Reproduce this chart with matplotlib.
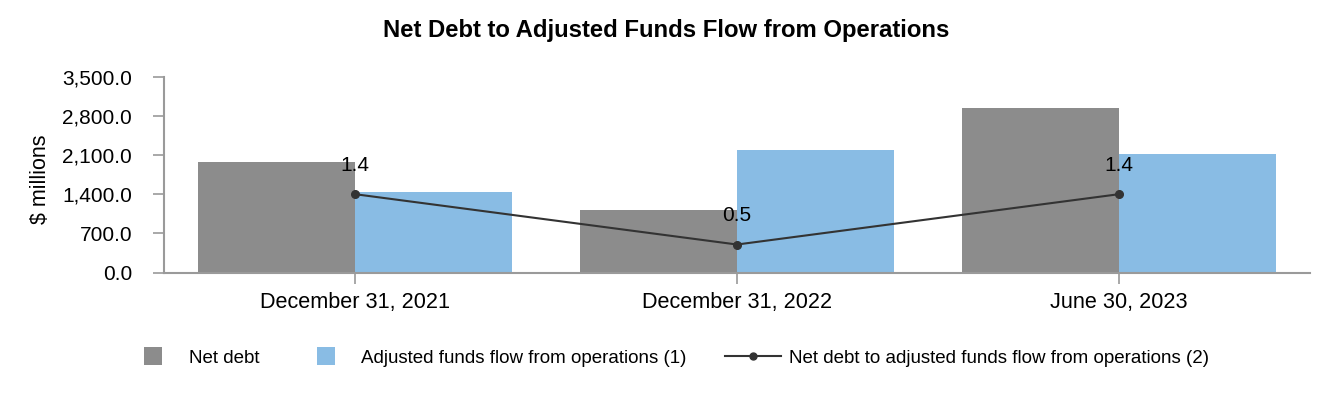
import matplotlib
matplotlib.use("Agg")
import matplotlib.pyplot as plt
from matplotlib.lines import Line2D
from matplotlib.patches import Patch, Rectangle
from matplotlib.legend_handler import HandlerPatch
import numpy as np

plt.rcParams['font.family'] = ['Liberation Sans', 'DejaVu Sans']

categories = ["December 31, 2021", "December 31, 2022", "June 30, 2023"]
net_debt = [1975, 1117, 2941]
affo = [1434, 2190, 2124]
ratio = [1.4, 0.5, 1.4]
ytick_vals = [0, 700, 1400, 2100, 2800, 3500]

c_gray = "#8c8c8c"
c_blue = "#89bce4"
c_line = "#333333"
c_axis = "#9a9a9a"

fig = plt.figure(figsize=(13.32, 4.0), dpi=100)
ax = fig.add_axes([164/1332, 1-272.5/400, (1310-164)/1332, 195.8/400])

x = np.arange(len(categories))
w = 0.41
ax.bar(x - w/2, net_debt, width=w, color=c_gray, zorder=2)
ax.bar(x + w/2, affo, width=w, color=c_blue, zorder=2)

ax.set_xlim(-0.5, 2.5)
ax.set_ylim(0, 3500)
ax.set_yticks(ytick_vals)
ax.set_yticklabels([f"{v:,.1f}" for v in ytick_vals], fontsize=15)
ax.set_xticks(x)
ax.set_xticklabels(categories, fontsize=15.6)
ax.set_ylabel("$ millions", fontsize=15.5)
ax.yaxis.set_label_coords(-0.099, 0.477)

for s in ["top", "right"]:
    ax.spines[s].set_visible(False)
for s in ["left", "bottom"]:
    ax.spines[s].set_color(c_axis)
    ax.spines[s].set_linewidth(1.5)
ax.tick_params(axis="both", direction="out", length=8, width=1.2, color=c_axis, colors="black")
ax.tick_params(axis="y", pad=15)
ax.tick_params(axis="x", pad=6)

ax2 = ax.twinx()
ax2.set_ylim(0, 3.5)
ax2.plot(x, ratio, color=c_line, lw=1.5, marker="o", ms=5.5, zorder=5)
for xi, r in zip(x, ratio):
    ax2.annotate(f"{r:.1f}", (xi, r), xytext=(0, 21), textcoords="offset points",
                 ha="center", va="center", fontsize=15)
ax2.axis("off")

fig.suptitle("Net Debt to Adjusted Funds Flow from Operations", fontsize=17.2,
             fontweight="bold", y=1-30/400, va="center")


def square_patch(legend, orig_handle, xdescent, ydescent, width, height, fontsize):
    s = 13.0
    return Rectangle((-xdescent + (width - s) / 2, -ydescent + (height - s) / 2), s, s)


handles = [
    Patch(facecolor=c_gray, edgecolor="none"),
    Patch(facecolor=c_blue, edgecolor="none"),
    Line2D([0], [0], color=c_line, lw=1.5, marker="o", ms=5),
]
labels = ["Net debt", "Adjusted funds flow from operations (1)",
          "Net debt to adjusted funds flow from operations (2)"]
fig.legend(handles, labels, loc="center", bbox_to_anchor=(667/1332, 1-358/400),
           ncol=3, frameon=False, fontsize=13.5, handlelength=3.0,
           columnspacing=2.05, handletextpad=0.4,
           handler_map={Patch: HandlerPatch(patch_func=square_patch)})

fig.savefig("out.png", dpi=100)
